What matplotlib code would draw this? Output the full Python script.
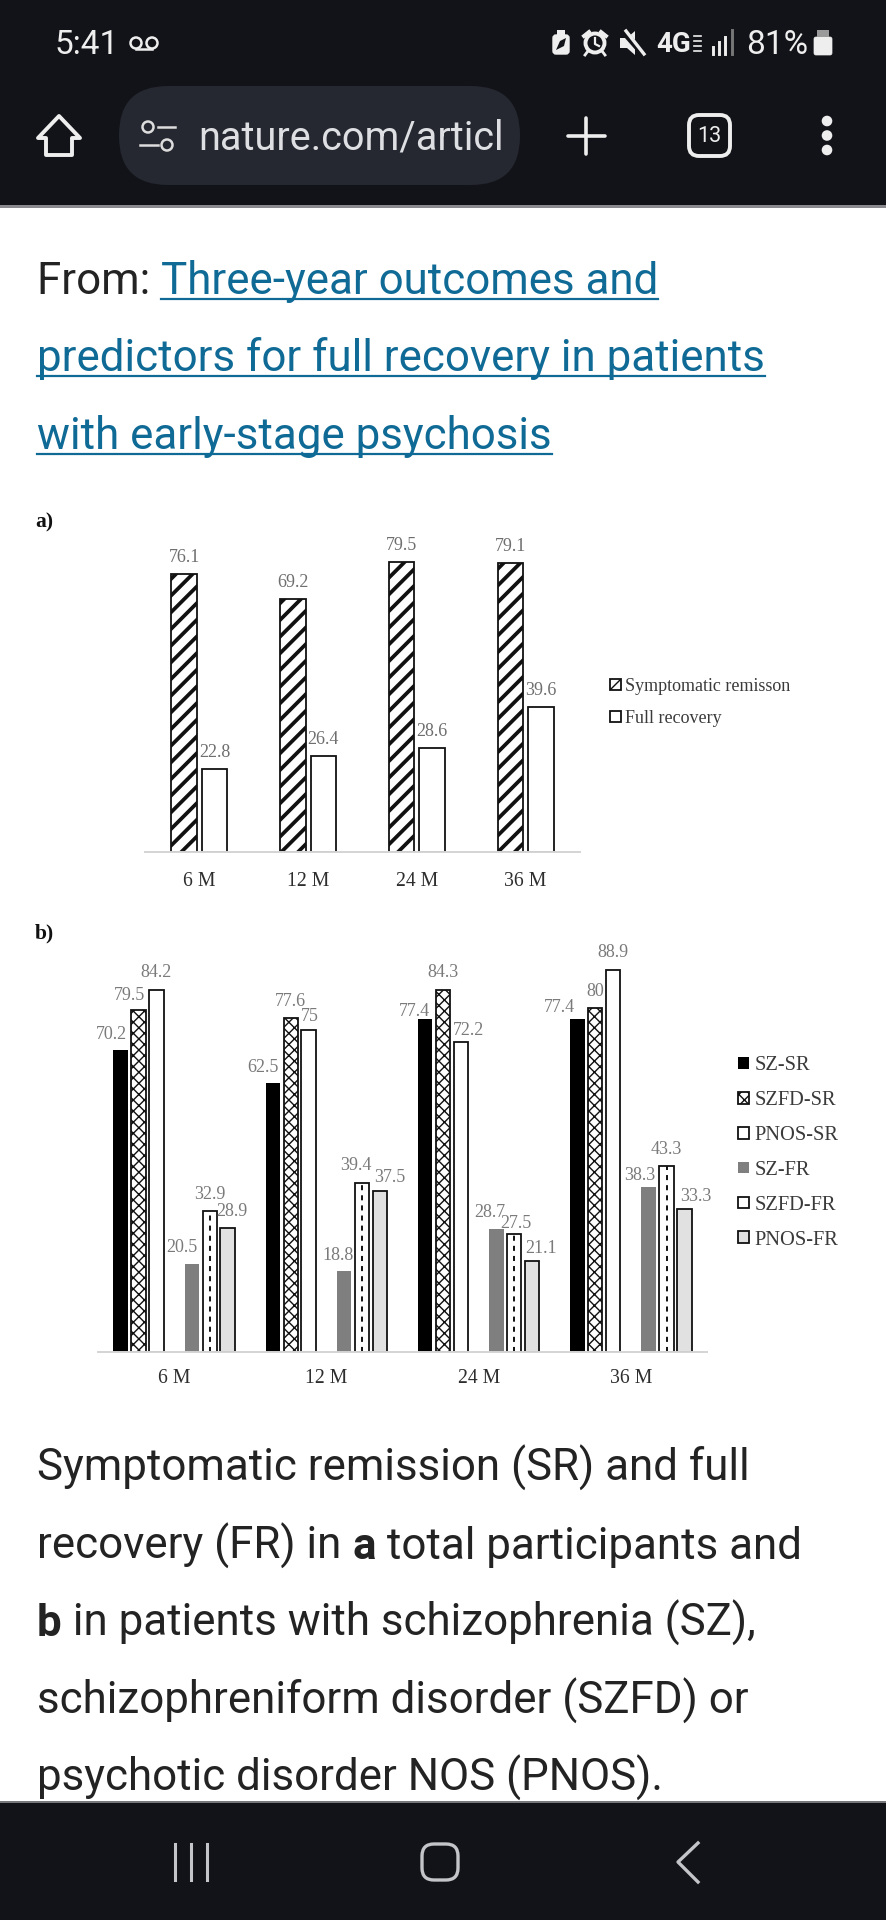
import matplotlib
matplotlib.use('Agg')
import matplotlib.pyplot as plt
from matplotlib.patches import FancyBboxPatch, Circle, Polygon, Rectangle

# ---------- data ----------
months = ['6 M', '12 M', '24 M', '36 M']
a_labels = ['Symptomatic remisson', 'Full recovery']
a_remission = [76.1, 69.2, 79.5, 79.1]
a_recovery = [22.8, 26.4, 28.6, 39.6]

b_labels = ['SZ-SR', 'SZFD-SR', 'PNOS-SR', 'SZ-FR', 'SZFD-FR', 'PNOS-FR']
sz_sr = [70.2, 62.5, 77.4, 77.4]
szfd_sr = [79.5, 77.6, 84.3, 80]
pnos_sr = [84.2, 75, 72.2, 88.9]
sz_fr = [20.5, 18.8, 28.7, 38.3]
szfd_fr = [32.9, 39.4, 27.5, 43.3]
pnos_fr = [28.9, 37.5, 21.1, 33.3]

# manual data-label nudges of the original figure (pixels: dx, dy above bar top)
sz_sr_off = [(-9.5, 16), (-9.5, 16), (-11, 7.5), (-17.5, 11.7)]
szfd_sr_off = [(-9, 15), (0, 16.5), (0, 17), (0, 17)]
pnos_sr_off = [(0, 17), (1.5, 13), (8, 11), (0, 17)]
sz_fr_off = [(-10, 16), (-6, 16), (-6.5, 16), (-9, 11.6)]
szfd_fr_off = [(0, 16), (-6, 16.6), (2, 10), (0, 16)]
pnos_fr_off = [(4.7, 16), (10, 13), (9, 12.6), (11, 12.8)]

W, H, DPI = 886, 1920, 100
DARK = '#121318'
PX = 72 / DPI
SERIF = 'Liberation Serif'

fig = plt.figure(figsize=(W / DPI, H / DPI), dpi=DPI, facecolor='white')

# ---------- page overlay in pixel coordinates ----------
pg = fig.add_axes([0, 0, 1, 1], zorder=0)
pg.set_xlim(0, W)
pg.set_ylim(H, 0)
pg.axis('off')
fig.canvas.draw()
rend = fig.canvas.get_renderer()


def twidth(s, **kw):
    t = pg.text(0, 0, s + '|', **kw)
    w1 = t.get_window_extent(rend).width
    t.set_text('|')
    w2 = t.get_window_extent(rend).width
    t.remove()
    return w1 - w2


pg.add_patch(Rectangle((0, 0), W, 205, color=DARK, lw=0))
pg.add_patch(Rectangle((0, 205), W, 2.5, color='#8a8a8e', lw=0))
pg.add_patch(Rectangle((0, 1802), W, 118, color=DARK, lw=0))
pg.add_patch(Rectangle((0, 1801), W, 2, color='#77787c', lw=0))

WH = '#eeeeee'
pg.text(55, 54, '5:41', family='Roboto', fontsize=24, color=WH, va='baseline')
# voicemail
for cx in (136, 152):
    pg.add_patch(Circle((cx, 43), 5.5, fill=False, ec=WH, lw=1.8))
pg.plot([136, 152], [48.5, 48.5], color=WH, lw=1.8)
# battery saver
pg.add_patch(FancyBboxPatch((553, 35), 16, 19, boxstyle='round,pad=0,rounding_size=3', fc=WH, ec=WH, lw=1))
pg.add_patch(Rectangle((557, 30), 8, 5, color=WH, lw=0))
pg.add_patch(Polygon([(556, 50), (560, 41), (566, 38), (564, 46)], color=DARK, lw=0))
# alarm
pg.add_patch(Circle((595, 43), 9.5, fill=False, ec=WH, lw=2.8))
pg.plot([595, 595, 599], [38, 44, 46], color=WH, lw=1.6)
pg.plot([584, 589], [36, 32], color=WH, lw=2.8)
pg.plot([606, 601], [36, 32], color=WH, lw=2.8)
pg.plot([588, 585], [51, 55], color=WH, lw=2)
pg.plot([602, 605], [51, 55], color=WH, lw=2)
# mute
pg.add_patch(Polygon([(620, 38), (627, 38), (635, 31), (635, 55), (627, 48), (620, 48)], color=WH, lw=0))
pg.plot([623, 644], [31, 55], color=DARK, lw=4.5)
pg.plot([626, 644], [31, 54], color=WH, lw=2.4)
# 4G + signal
pg.text(656, 52, '4G', family='Roboto', weight='bold', fontsize=20, color=WH, va='baseline')
for yy in (36, 41, 46, 51):
    pg.plot([694, 701], [yy, yy], color=WH, lw=1.2)
for x0, top, col in zip((713, 719, 725, 732), (47, 42, 37, 30), (WH, WH, WH, '#777777')):
    pg.plot([x0, x0], [top, 54], color=col, lw=2.1)
pg.text(746, 54, '81%', family='Roboto', fontsize=24, color=WH, va='baseline')
pg.add_patch(FancyBboxPatch((814, 37), 18, 18, boxstyle='round,pad=0,rounding_size=2', fc=WH, ec=WH, lw=0.5))
pg.add_patch(Rectangle((817, 30), 12, 7, color='#9a9a9a', lw=0))

# toolbar
pg.add_patch(Polygon([(59, 116), (80, 138), (72, 138), (72, 155), (46, 155), (46, 138), (38, 138)],
                     fill=False, ec=WH, lw=2.8, joinstyle='round'))
pg.add_patch(FancyBboxPatch((119, 86), 401, 99, boxstyle='round,pad=0,rounding_size=49', fc='#252830', ec='none'))
pg.add_patch(Circle((148, 127), 5.5, fill=False, ec='#dddddd', lw=1.8))
pg.plot([158, 175], [127, 127], color='#dddddd', lw=1.8)
pg.add_patch(Circle((167, 145), 5.5, fill=False, ec='#dddddd', lw=1.8))
pg.plot([140, 158], [145, 145], color='#dddddd', lw=1.8)
pg.text(198, 149, 'nature.com/articl', family='Roboto', fontsize=28.5, color='#dddfe3', va='baseline')
pg.plot([568, 605], [136, 136], color=WH, lw=2.6, solid_capstyle='round')
pg.plot([586, 586], [118, 154], color=WH, lw=2.6, solid_capstyle='round')
pg.add_patch(FancyBboxPatch((689, 115), 41, 41, boxstyle='round,pad=0,rounding_size=10', fc='none', ec=WH, lw=2.8))
pg.text(709.5, 136, '13', family='Roboto', fontsize=15.5, color=WH, ha='center', va='center')
for yy in (121, 135.5, 150):
    pg.add_patch(Circle((827, yy), 5.3, color=WH, lw=0))

# heading
INK = '#232323'
LINK = '#0f6a96'
FS = 31.6
kw = dict(family='Roboto', fontsize=FS, va='baseline')
pg.text(37, 294, 'From: ', color=INK, **kw)
x0 = 37 + twidth('From: ', **kw)
for x, y, s in ((x0, 294, 'Three-year outcomes and'),
                (37, 371, 'predictors for full recovery in patients'),
                (37, 449, 'with early-stage psychosis')):
    pg.text(x, y, s, color=LINK, **kw)
    pg.plot([x, x + twidth(s, **kw)], [y + 5, y + 5], color=LINK, lw=1.6)

# caption
kb = dict(kw, weight='bold')
pg.text(37, 1481, 'Symptomatic remission (SR) and full', color=INK, **kw)
s = 'recovery (FR) in '
pg.text(37, 1559, s, color=INK, **kw)
x = 37 + twidth(s, **kw)
pg.text(x, 1559, 'a', color=INK, **kb)
pg.text(x + twidth('a', **kb), 1559, ' total participants and', color=INK, **kw)
pg.text(37, 1636, 'b', color=INK, **kb)
pg.text(37 + twidth('b', **kb), 1636, ' in patients with schizophrenia (SZ),', color=INK, **kw)
pg.text(37, 1714, 'schizophreniform disorder (SZFD) or', color=INK, **kw)
pg.text(37, 1791, 'psychotic disorder NOS (PNOS).', color=INK, **kw)

# bottom nav
NAV = '#c4c5c9'
for xx in (175, 191, 207):
    pg.plot([xx, xx], [1844, 1880], color=NAV, lw=2.2)
pg.add_patch(FancyBboxPatch((422, 1844), 36, 36, boxstyle='round,pad=0,rounding_size=12', fc='none', ec=NAV, lw=2.4))
pg.plot([698, 678, 698], [1843, 1862, 1882], color=NAV, lw=2.4)

# panel letters
pg.text(35, 527, 'a)', family=SERIF, weight='bold', fontsize=15.5, color='#111111', va='baseline')
pg.text(35, 938, 'b)', family=SERIF, weight='bold', fontsize=15.5, color='#111111', va='baseline')


def chart_axes(left, right, base, yscale, ymax, pad):
    top = base - yscale * ymax
    ax = fig.add_axes([left / W, 1 - base / H, (right - left) / W, (base - top) / H], zorder=2)
    ax.patch.set_alpha(0)
    ax.set_xlim(0, len(months))
    ax.set_ylim(0, ymax)
    for k in ('top', 'left', 'right'):
        ax.spines[k].set_visible(False)
    ax.spines['bottom'].set_color('#d4d4d4')
    ax.spines['bottom'].set_linewidth(1.4)
    ax.set_yticks([])
    ax.set_xticks([i + 0.5 for i in range(len(months))])
    ax.set_xticklabels(months, family=SERIF, fontsize=14.2, color='#2e2e2e')
    ax.tick_params(axis='x', length=0, pad=pad)
    return ax


def value_labels(ax, xs, vals, offs, color):
    for x, v, (dx, dy) in zip(xs, vals, offs):
        ax.annotate(f'{v:g}', (x, v), xytext=(dx * PX, dy * PX), textcoords='offset points',
                    ha='center', va='center', family=SERIF, fontsize=13, color=color)


def hatch_width(artist, lw):
    """Draw one artist with its own hatch line width."""
    plain = artist.draw

    def draw(renderer, *args, **kwargs):
        with matplotlib.rc_context({'hatch.linewidth': lw}):
            plain(renderer, *args, **kwargs)
    artist.draw = draw


EDGE = '#111111'
# ---------- panel a ----------
axa = chart_axes(145, 580, 852, 3.65, 85, 14.5)
w_a, d_a = 0.2345, 0.1407
xs1 = [i + 0.5 - d_a for i in range(4)]
xs2 = [i + 0.5 + d_a for i in range(4)]
with matplotlib.rc_context({'hatch.linewidth': 2.7}):
    b1 = axa.bar(xs1, a_remission, w_a, facecolor='white', edgecolor=EDGE, lw=1.3, hatch='//', label=a_labels[0])
for p in b1:
    hatch_width(p, 2.7)
b2 = axa.bar(xs2, a_recovery, w_a, facecolor='white', edgecolor=EDGE, lw=1.3, label=a_labels[1])
value_labels(axa, xs1, a_remission, [(0, 16.5)] * 4, '#6e6e6e')
value_labels(axa, xs2, a_recovery, [(0, 16.5)] * 4, '#6e6e6e')
lega = axa.legend(loc='upper left', bbox_to_anchor=(610 / W, 1 - 678 / H), bbox_transform=fig.transFigure,
                  frameon=False, borderpad=0, borderaxespad=0, handlelength=0.6, handleheight=0.6,
                  handletextpad=0.25, labelspacing=0.83, prop={'family': SERIF, 'size': 13},
                  labelcolor='#3a3a3a')
hatch_width(lega, 2.7)

# ---------- panel b ----------
axb = chart_axes(98, 707, 1352, 4.3, 95, 12)
step, w_b = 0.117, 0.095
slots = [0, 1, 2, 4, 5, 6]
series = [sz_sr, szfd_sr, pnos_sr, sz_fr, szfd_fr, pnos_fr]
offsets = [sz_sr_off, szfd_sr_off, pnos_sr_off, sz_fr_off, szfd_fr_off, pnos_fr_off]
styles = [dict(facecolor='black', edgecolor='black', lw=0),
          dict(facecolor='white', edgecolor=EDGE, lw=1.3, hatch='xxx'),
          dict(facecolor='white', edgecolor=EDGE, lw=1.3),
          dict(facecolor='#7f7f7f', edgecolor='#7f7f7f', lw=0),
          dict(facecolor='white', edgecolor=EDGE, lw=1.3),
          dict(facecolor='#e1e1e1', edgecolor=EDGE, lw=1.3)]
for slot, vals, offs, st, lab in zip(slots, series, offsets, styles, b_labels):
    xs = [i + 0.5 + (slot - 3) * step for i in range(4)]
    bars = axb.bar(xs, vals, w_b, label=lab, **st)
    for p in bars:
        hatch_width(p, 1.2)
    value_labels(axb, xs, vals, offs, '#7a7a7a')
    if lab == 'SZFD-FR':
        axb.vlines(xs, 0, vals, colors='#111111', linestyles=(0, (2.6, 2.6)), lw=1.4)
legb = axb.legend(loc='upper left', bbox_to_anchor=(738 / W, 1 - 1056 / H), bbox_transform=fig.transFigure,
                  frameon=False, borderpad=0, borderaxespad=0, handlelength=0.52, handleheight=0.52,
                  handletextpad=0.27, labelspacing=0.78, prop={'family': SERIF, 'size': 14.7},
                  labelcolor='#3a3a3a')
hatch_width(legb, 1.2)

fig.savefig('out.png', dpi=DPI, facecolor='white')
